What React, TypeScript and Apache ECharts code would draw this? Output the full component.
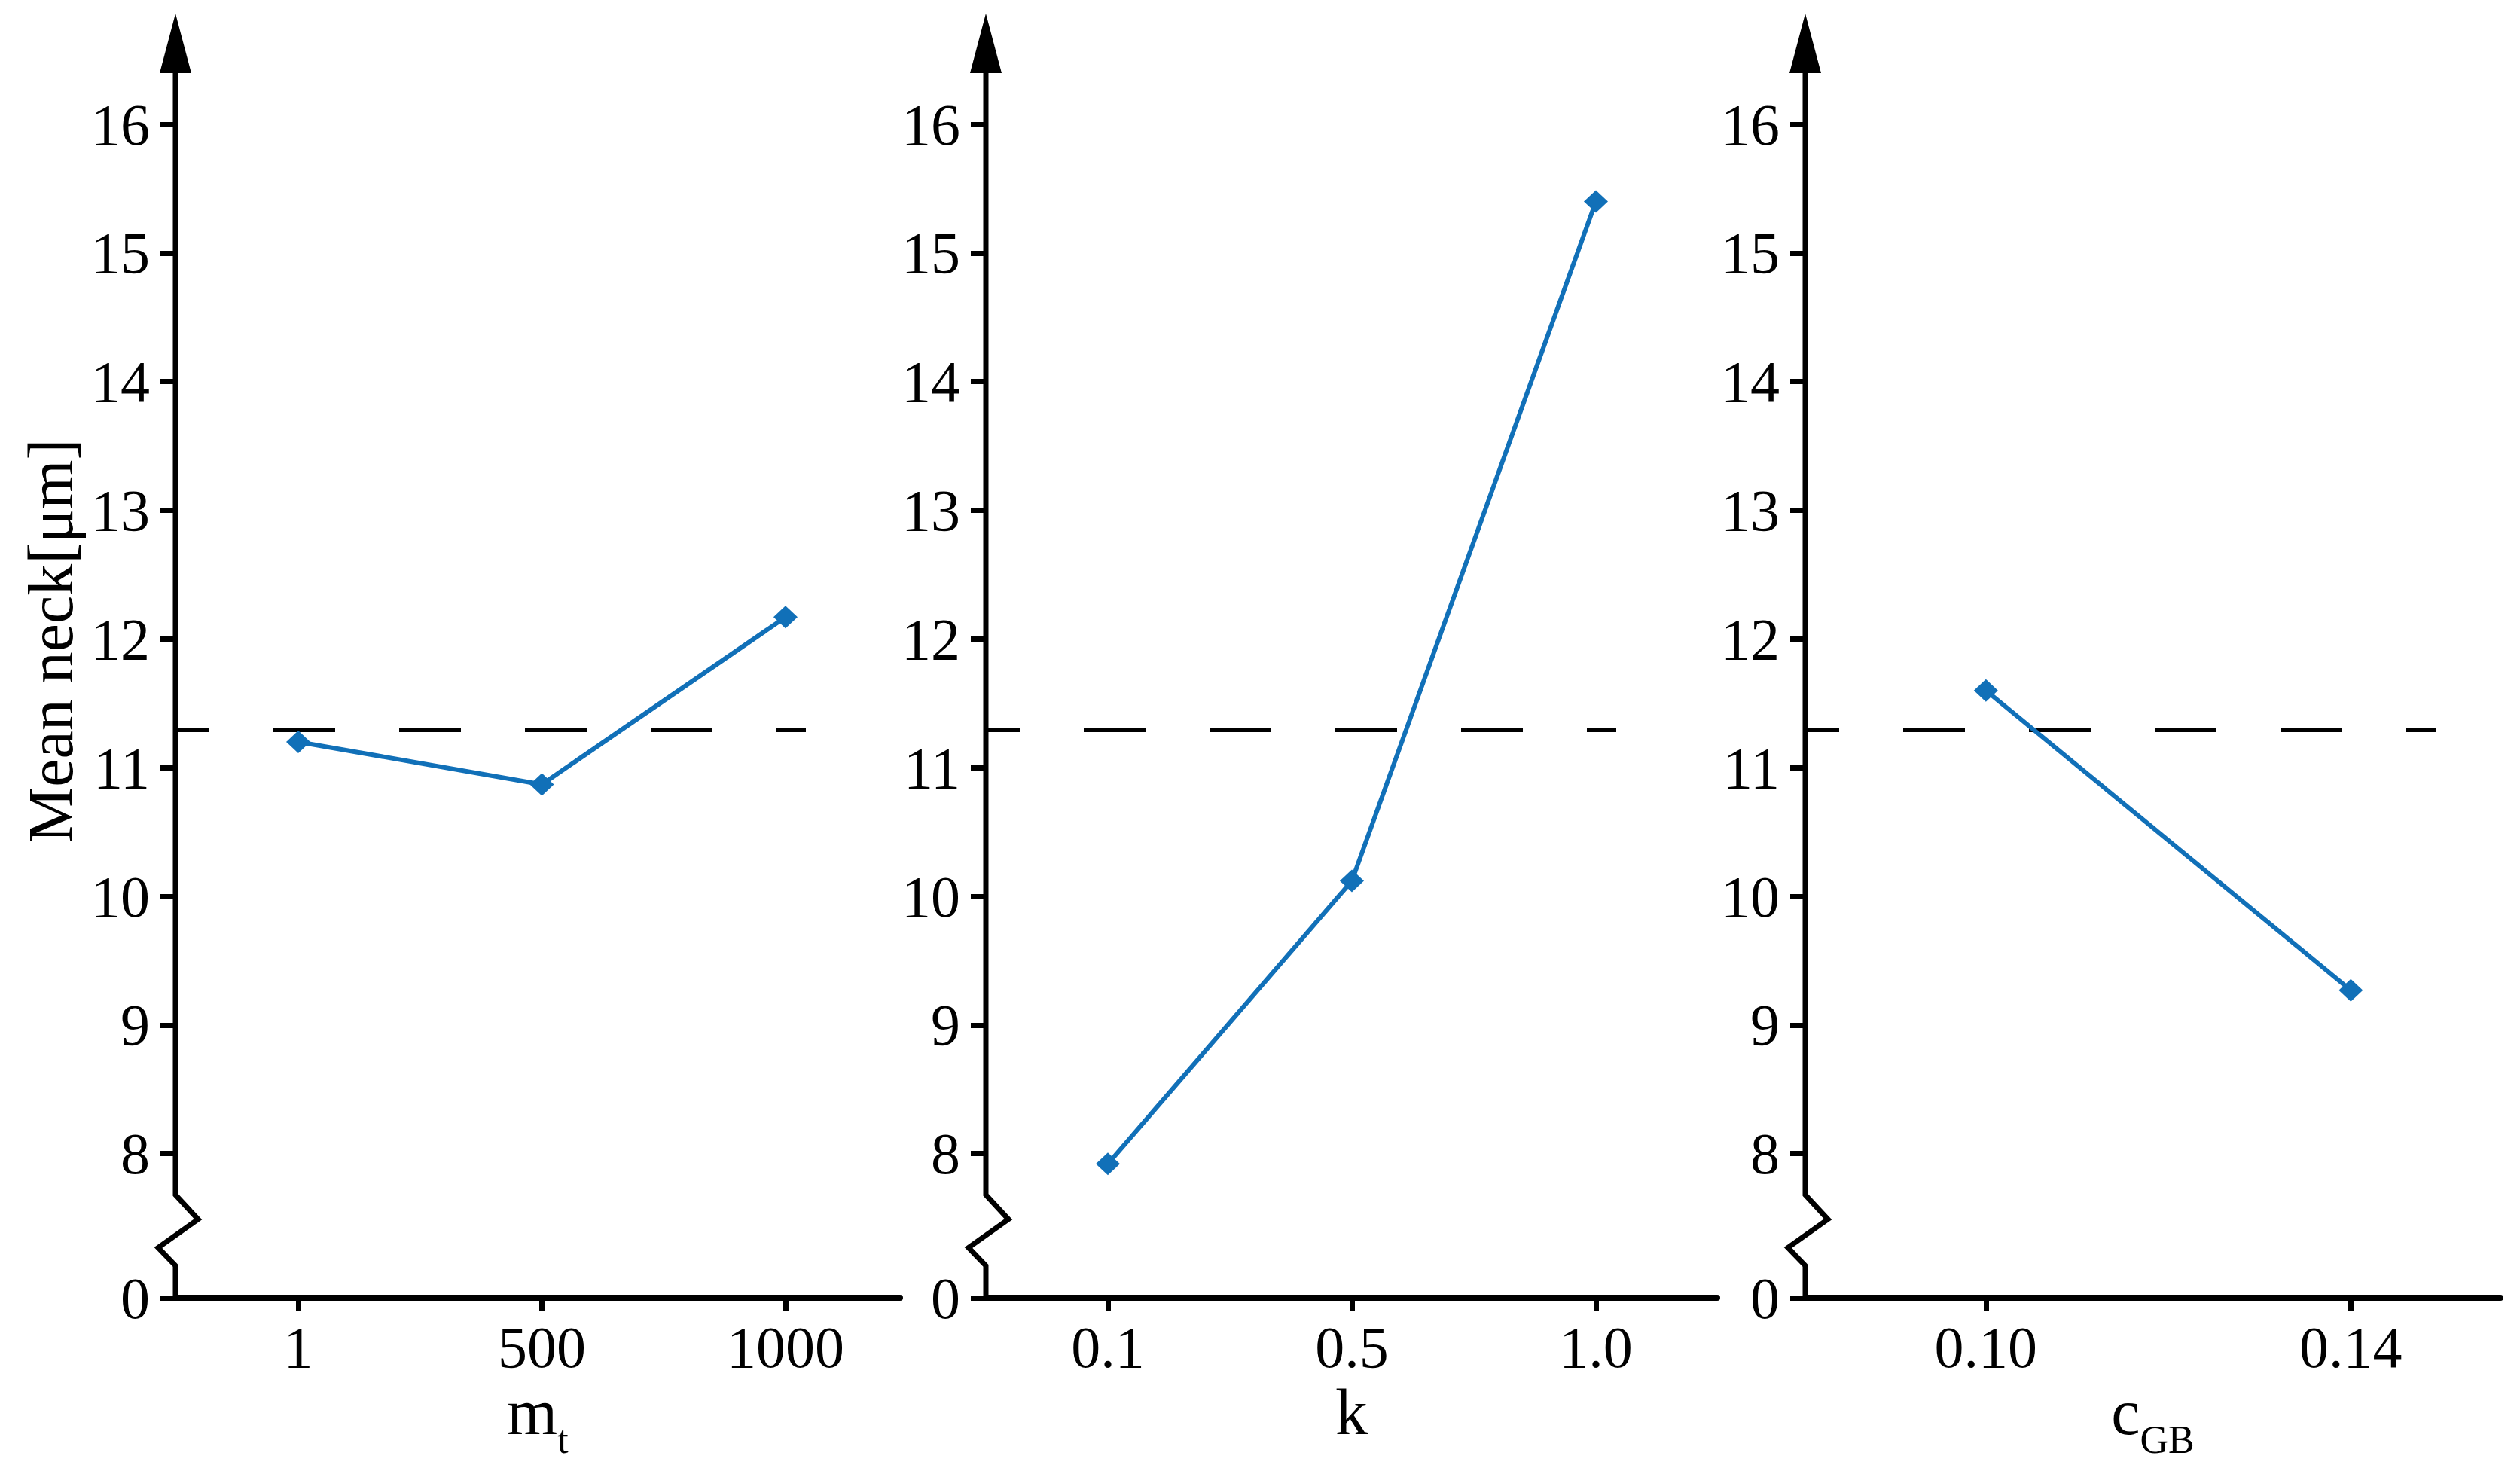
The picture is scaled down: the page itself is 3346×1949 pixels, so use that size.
import React, { useEffect, useRef } from "react";
import * as echarts from "echarts";

// ---------------- data ----------------
const mtLevels = ["1", "500", "1000"];
const mtMeans = [11.2, 10.87, 12.17];
const kLevels = ["0.1", "0.5", "1.0"];
const kMeans = [7.92, 10.12, 15.4];
const cgbLevels = [0.1, 0.14];
const cgbMeans = [11.6, 9.27];
const grandMean = 11.29;
const yTickValues = [8, 9, 10, 11, 12, 13, 14, 15, 16];
const yBreakLabel = "0";
const yAxisTitle = "Mean neck[μm]";

// ---------------- style / layout ----------------
const FONT = "Liberation Serif";
const BLUE = "#1170B8";
const W = 3346;
const H = 1949;
const Y_MIN = 6.88;
const Y_MAX = 16.627;
const BREAK = { top: 7.68, peak1: 7.49, peak2: 7.27, bottom: 7.13 };
const GRID_TOP = 58;
const GRID_BOTTOM = 226;
const AXIS_W = 7;
const grids = [
  { left: 233, right: W - 1195 },
  { left: 1309, right: W - 2280 },
  { left: 2397, right: W - 3320 },
];
const xRanges = [
  { min: -0.504, max: 2.47 },
  { min: -0.5, max: 2.497 },
  { min: 0.0802, max: 0.1564 },
];
const DASH_LEN_PX = 837;

function dashEnd(i: number) {
  const g = grids[i];
  const gw = W - g.left - g.right;
  const r = xRanges[i];
  return r.min + (DASH_LEN_PX / gw) * (r.max - r.min);
}

const tickLabelStyle = { color: "#000", fontFamily: FONT, fontSize: 78 };

function makeX(i: number, ticks: number[], fmt: (v: number) => string, name: string, rich: any) {
  return {
    type: "value",
    gridIndex: i,
    min: xRanges[i].min,
    max: xRanges[i].max,
    axisLine: { show: true, onZero: false, lineStyle: { color: "#000", width: AXIS_W + 1 } },
    axisTick: { show: true, inside: false, length: 18, customValues: ticks, lineStyle: { color: "#000", width: AXIS_W } },
    axisLabel: { show: true, customValues: ticks, formatter: fmt, margin: 26, ...tickLabelStyle },
    splitLine: { show: false },
    name,
    nameLocation: "middle",
    nameGap: 128,
    nameTextStyle: { color: "#000", fontFamily: FONT, fontSize: 86, rich },
  };
}

function makeY(i: number) {
  const vals = [Y_MIN, ...yTickValues];
  return {
    type: "value",
    gridIndex: i,
    min: Y_MIN,
    max: Y_MAX,
    axisLine: { show: false, onZero: false },
    axisTick: { show: true, inside: false, length: 20, customValues: vals, lineStyle: { color: "#000", width: AXIS_W } },
    axisLabel: {
      show: true,
      customValues: vals,
      formatter: (v: number) => (v < 7.5 ? yBreakLabel : String(Math.round(v))),
      margin: 34,
      ...tickLabelStyle,
    },
    splitLine: { show: false },
  };
}

const mainStyle = { fontSize: 86, fontFamily: FONT, color: "#000", lineHeight: 86, padding: [0, 0, 20, 0], verticalAlign: "bottom" };
const subStyle = { fontSize: 52, fontFamily: FONT, color: "#000", lineHeight: 52, verticalAlign: "bottom" };

function makeSeries(i: number, data: number[][]) {
  return {
    type: "line",
    xAxisIndex: i,
    yAxisIndex: i,
    data,
    symbol: "diamond",
    symbolSize: [32, 30],
    lineStyle: { color: BLUE, width: 6 },
    itemStyle: { color: BLUE },
    z: 5,
    markLine: {
      silent: true,
      symbol: ["none", "none"],
      label: { show: false },
      emphasis: { disabled: true },
      lineStyle: { color: "#000", width: 5, type: [82, 85], dashOffset: 37 },
      data: [[{ coord: [xRanges[i].min, grandMean] }, { coord: [dashEnd(i), grandMean] }]],
      z: 2,
    },
  };
}

export default function App() {
  const ref = useRef<HTMLDivElement>(null);
  useEffect(() => {
    const chart = echarts.init(ref.current!, null, { renderer: "svg" });
    const option: any = {
      animation: false,
      backgroundColor: "#fff",
      grid: grids.map((g) => ({ left: g.left, right: g.right, top: GRID_TOP, bottom: GRID_BOTTOM })),
      xAxis: [
        makeX(0, mtLevels.map((_, i) => i), (v) => mtLevels[Math.round(v)], "{m|m}{s|t}", { m: mainStyle, s: subStyle }),
        makeX(1, kLevels.map((_, i) => i), (v) => kLevels[Math.round(v)], "{m|k}", { m: mainStyle }),
        makeX(2, cgbLevels, (v) => v.toFixed(2), "{m|c}{s|GB}", { m: mainStyle, s: subStyle }),
      ],
      yAxis: [makeY(0), makeY(1), makeY(2)],
      series: [
        makeSeries(0, mtMeans.map((v, i) => [i, v])),
        makeSeries(1, kMeans.map((v, i) => [i, v])),
        makeSeries(2, cgbMeans.map((v, i) => [cgbLevels[i], v])),
      ],
    };
    chart.setOption(option);

    const gfx: any[] = [];
    for (let i = 0; i < 3; i++) {
      const px = (v: number) => chart.convertToPixel({ xAxisIndex: i, yAxisIndex: i } as any, [xRanges[i].min, v]) as number[];
      const [x0, yTop] = px(Y_MAX);
      const yBot = px(Y_MIN)[1];
      const yb1 = px(BREAK.top)[1];
      const yp1 = px(BREAK.peak1)[1];
      const yp2 = px(BREAK.peak2)[1];
      const yb2 = px(BREAK.bottom)[1];
      gfx.push({
        type: "polyline",
        z: 100,
        shape: { points: [[x0, yTop + 10], [x0, yb1], [x0 + 30, yp1], [x0 - 23, yp2], [x0, yb2], [x0, yBot + 3]] },
        style: { stroke: "#000", lineWidth: AXIS_W, fill: null, lineJoin: "miter" },
        silent: true,
      });
      gfx.push({
        type: "polygon",
        z: 100,
        shape: { points: [[x0, yTop - 40], [x0 + 21, yTop + 39], [x0 - 21, yTop + 39]] },
        style: { fill: "#000" },
        silent: true,
      });
    }
    gfx.push({
      type: "text",
      x: 67,
      y: 851,
      rotation: Math.PI / 2,
      z: 100,
      style: {
        text: yAxisTitle,
        fontSize: 84,
        fontFamily: FONT,
        fill: "#000",
        align: "center",
        verticalAlign: "middle",
      },
    });
    chart.setOption({ graphic: gfx });
    return () => chart.dispose();
  }, []);
  return (
    <div
      ref={ref}
      style={{ position: "fixed", left: 0, top: 0, width: W, height: H, background: "#fff" }}
    />
  );
}
